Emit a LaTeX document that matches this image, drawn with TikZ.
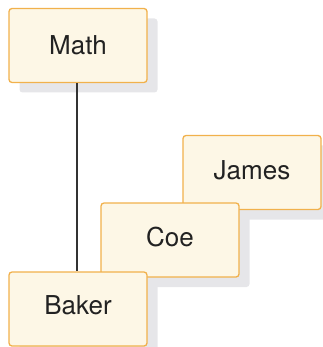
\documentclass[tikz,border=0pt]{standalone}
\usepackage{fontspec}
\setmainfont{TeX Gyre Heros}
\usetikzlibrary{shadows}
\definecolor{boxfill}{HTML}{FDF7E6}
\definecolor{boxdraw}{HTML}{F1B14C}
\definecolor{shadowgray}{HTML}{E6E6E9}
\definecolor{txt}{HTML}{222222}
\definecolor{linec}{HTML}{333333}
\begin{document}
\begin{tikzpicture}[x=1pt,y=-1pt,
  entity/.style={draw=boxdraw, fill=boxfill, line width=1.3pt, rounded corners=3pt,
    minimum width=138pt, minimum height=74pt, inner sep=0pt, text=txt,
    font=\fontsize{26pt}{31pt}\selectfont,
    drop shadow={shadow xshift=10.5pt, shadow yshift=-10pt, fill=shadowgray, opacity=1, draw=none}},
  lift/.style={text height=18.7pt, text depth=#1},
  conn/.style={draw=linec, line width=1.2pt}]
\useasboundingbox (0,0) rectangle (322,347);
\node[entity] (math) at (78,45.5) {Math};
\node[entity, lift=4pt] (james) at (252,172.5) {James};
\node[entity, lift=6pt] (coe) at (170,240) {Coe};
\node[entity, lift=8pt] (baker) at (78,309) {Baker};
\draw[conn] ([xshift=-1pt]math.south) -- ([xshift=-1pt]baker.north);
\end{tikzpicture}
\end{document}
